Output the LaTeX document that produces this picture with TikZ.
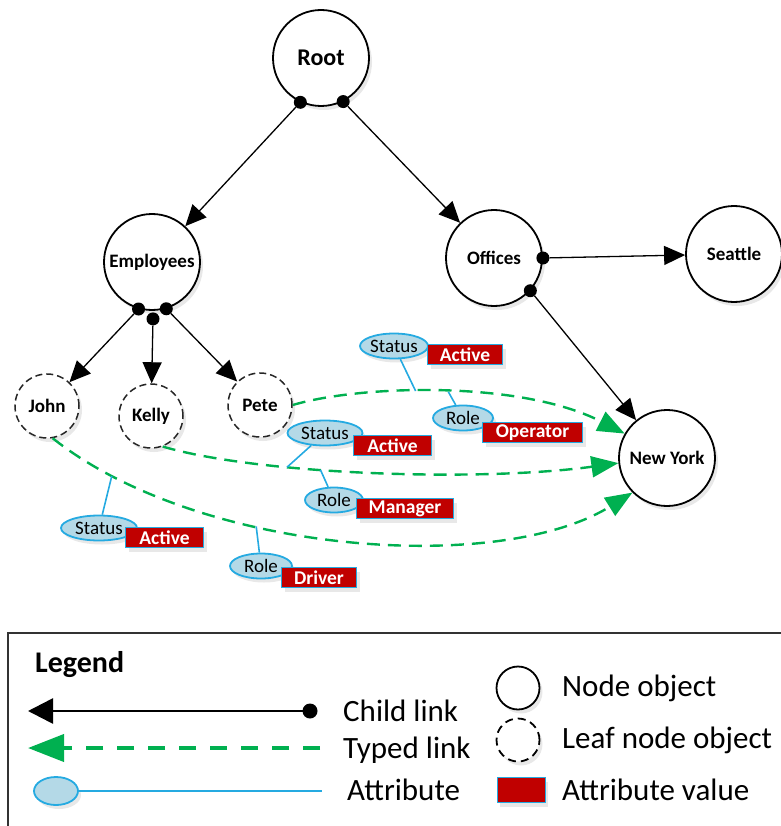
\documentclass[tikz,border=0pt]{standalone}
\usepackage{fontspec}
\setmainfont{Carlito}
\usetikzlibrary{arrows.meta,shapes.geometric,shadows,calc}
\definecolor{linkgreen}{HTML}{00B050}
\definecolor{attrblue}{HTML}{25AAE1}
\definecolor{attrfill}{HTML}{B4D9E7}
\definecolor{valred}{HTML}{C00000}
\tikzset{
  shd/.style={drop shadow={opacity=0.18,shadow xshift=3pt,shadow yshift=-4pt}},
  obj/.style={circle,draw=black,line width=1.8pt,fill=white,minimum size=96pt,inner sep=0pt,
    font=\bfseries\fontsize{19}{21}\selectfont,shd},
  leaf/.style={circle,draw=black!85,line width=1.5pt,dash pattern=on 7pt off 4pt,fill=white,
    minimum size=64pt,inner sep=0pt,font=\bfseries\fontsize{19}{21}\selectfont,shd},
  child/.style={draw=black,line width=1.3pt,-{Triangle[length=21pt,width=19pt]}},
  typed/.style={draw=linkgreen,line width=2.4pt,dash pattern=on 13pt off 8pt,
    -{Triangle[length=27pt,width=21pt,fill=linkgreen]}},
  attr/.style={ellipse,draw=attrblue,line width=1.8pt,fill=attrfill,inner sep=0pt,
    minimum height=25pt,font=\fontsize{19}{21}\selectfont,shd},
  val/.style={rectangle,draw=attrblue,line width=1pt,fill=valred,text=white,inner sep=0pt,
    minimum height=20pt,font=\bfseries\fontsize{19.5}{21}\selectfont,anchor=north west,shd},
  attrline/.style={draw=attrblue,line width=1.6pt},
  dot/.style={circle,fill=black,inner sep=0pt,minimum size=13pt},
  legtext/.style={anchor=west,font=\fontsize{31}{33}\selectfont,inner sep=0pt},
}
\begin{document}
\begin{tikzpicture}[x=1pt,y=-1pt]
\useasboundingbox (0,0) rectangle (780,826);
% main nodes
\node[obj,font=\bfseries\fontsize{24}{26}\selectfont] (root) at (321,58) {Root};
\node[obj] (emp) at (152,262) {Employees};
\node[obj] (off) at (494,258) {Offices};
\node[obj] (sea) at (734,254) {Seattle};
\node[obj] (ny) at (667,458) {New York};
\node[leaf] (john) at (47,406) {John};
\node[leaf] (kelly) at (151,416) {Kelly};
\node[leaf] (pete) at (260,405) {Pete};
% dots
\node[dot] (r1) at (root.245) {};
\node[dot] (r2) at (root.297) {};
\node[dot] (e1) at (emp.254) {};
\node[dot] (e2) at ($(emp.south)+(1,8)$) {};
\node[dot] (e3) at (emp.287) {};
\node[dot] (o1) at (off.0) {};
\node[dot] (o2) at (off.318) {};
% child links
\draw[child] (r1) -- (emp);
\draw[child] (r2) -- (off);
\draw[child] (o1) -- (sea);
\draw[child] (o2) -- (ny);
\draw[child] (e1) -- (john);
\draw[child] (e2) -- (kelly);
\draw[child] (e3) -- (pete);
% typed links
\draw[typed] (pete.east) .. controls (360,385) and (520,380) .. coordinate[pos=0.42] (pp1) coordinate[pos=0.51] (pp2) (ny.150);
\draw[typed] (kelly.291) .. controls (260,475) and (480,482) .. coordinate[pos=0.32] (kp1) coordinate[pos=0.39] (kp2) (ny.186);
\draw[typed] (john.280) .. controls (200,555) and (500,575) .. coordinate[pos=0.12] (jp1) coordinate[pos=0.36] (jp2) (ny.225);
% attributes on Pete link
\node[attr,minimum width=68pt] (ps) at (394,346) {Status};
\node[val,minimum width=75pt] (pv) at (427,344) {Active};
\draw[attrline] (ps) -- (pp1);
\node[attr,minimum width=60pt] (pr) at (463,418) {Role};
\node[val,minimum width=100pt] (prv) at (482,422) {Operator};
\draw[attrline] (pr) -- (pp2);
% attributes on Kelly link
\node[attr,minimum width=75pt] (ks) at (325,433) {Status};
\node[val,minimum width=78pt] (kv) at (353,435) {Active};
\draw[attrline] (ks) -- (kp1);
\node[attr,minimum width=58pt] (kr) at (334,500) {Role};
\node[val,minimum width=97pt] (krv) at (356,498) {Manager};
\draw[attrline] (kr) -- (kp2);
% attributes on John link
\node[attr,minimum width=76pt] (js) at (99,528) {Status};
\node[val,minimum width=78pt] (jv) at (125,527) {Active};
\draw[attrline] (js) -- (jp1);
\node[attr,minimum width=62pt] (jr) at (261,566) {Role};
\node[val,minimum width=75pt] (jrv) at (281,567) {Driver};
\draw[attrline] (jr) -- (jp2);
% legend
\draw[line width=1.3pt,black!80] (8,840) -- (8,633) -- (790,633);
\node[anchor=west,inner sep=0pt,font=\bfseries\fontsize{30}{32}\selectfont] (legt) at (35,665) {Legend};
\coordinate (lc1) at (310,711);
\coordinate (lc2) at (28,711);
\draw[draw=black,line width=2.6pt,-{Triangle[length=25pt,width=25pt]}] (lc1) -- (lc2);
\node[dot,minimum size=15pt] (lcd) at (lc1) {};
\coordinate (lt1) at (320,748);
\coordinate (lt2) at (28,748);
\draw[draw=linkgreen,line width=4pt,dash pattern=on 17pt off 14pt,-{Triangle[length=36pt,width=27pt,fill=linkgreen]}] (lt1) -- (lt2);
\node[attr,minimum width=44pt,minimum height=28pt] (la) at (56,791) {};
\coordinate (la2) at (322,791);
\draw[attrline,line width=2pt] (la) -- (la2);
\node[legtext] (lt_child) at (343,711) {Child link};
\node[legtext] (lt_typed) at (343,750) {Typed link};
\node[legtext] (lt_attr) at (347,790) {Attribute};
\node[circle,draw=black,line width=1.8pt,fill=white,minimum width=43pt,inner sep=0pt,shd] (lno) at (518,688) {};
\node[circle,draw=black,line width=1.8pt,dash pattern=on 8pt off 5pt,fill=white,minimum width=43pt,inner sep=0pt,shd] (llo) at (518,740) {};
\node[rectangle,draw=attrblue,line width=1pt,fill=valred,minimum width=48pt,minimum height=25pt,inner sep=0pt,shd] (lvo) at (521,790) {};
\node[legtext] (lt_node) at (562,688) {Node object};
\node[legtext] (lt_leaf) at (562,740) {Leaf node object};
\node[legtext] (lt_val) at (562,790) {Attribute value};
\end{tikzpicture}
\end{document}
